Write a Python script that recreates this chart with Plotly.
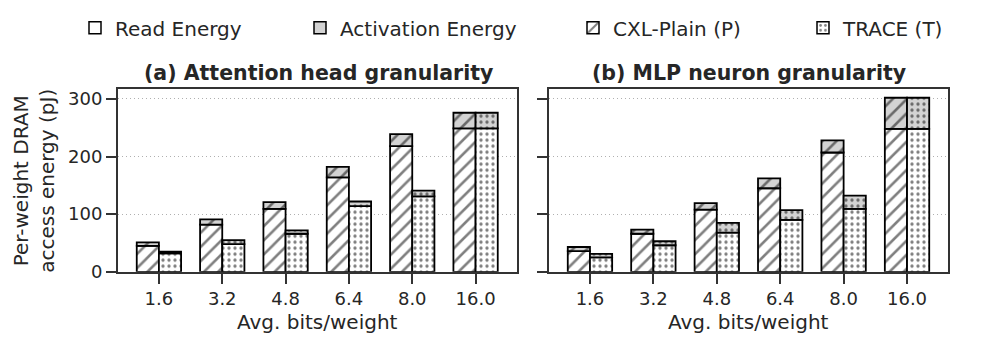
import plotly.graph_objects as go
from plotly.subplots import make_subplots

bits = ['1.6', '3.2', '4.8', '6.4', '8.0', '16.0']

# (a) attention head granularity, pJ per weight
head_plain_read = [45, 82, 109, 164, 218, 249]
head_plain_act = [6, 9, 12, 18, 21, 27]
head_trace_read = [32, 48, 66, 114, 131, 249]
head_trace_act = [3, 7, 6, 8, 10, 27]

# (b) MLP neuron granularity
mlp_plain_read = [36, 66, 108, 145, 207, 248]
mlp_plain_act = [7, 7, 11, 17, 21, 54]
mlp_trace_read = [25, 46, 68, 90, 109, 248]
mlp_trace_act = [6, 7, 17, 17, 23, 54]

y_ticks = [0, 100, 200, 300]

FONT = 'DejaVu Sans'
TXT = '#262626'
READ_COL = 'white'
ACT_COL = '#d3d3d3'
W = 0.35

# page body adds 8px all round, so shrink the figure to fit the window
FW, FH = 981, 342


def px(x):
    return (x - 8) / FW


def py(y):
    return 1 - (y - 8) / FH


hatch = {
    'P': dict(shape='/', size=10, solidity=0.26, fgcolor='black'),
    'T': dict(shape='.', size=6, solidity=0.24, fgcolor='black'),
}

fig = make_subplots(rows=1, cols=2)


def add_pair(col, read, act, key):
    off = -W if key == 'P' else 0
    fig.add_trace(go.Bar(x=bits, y=read, width=W, offset=off,
                         marker=dict(color=READ_COL, line=dict(color='black', width=1.8),
                                     pattern=dict(hatch[key], bgcolor=READ_COL)),
                         showlegend=False), row=1, col=col)
    fig.add_trace(go.Bar(x=bits, y=act, base=read, width=W, offset=off,
                         marker=dict(color=ACT_COL, line=dict(color='black', width=1.8),
                                     pattern=dict(hatch[key], bgcolor=ACT_COL)),
                         showlegend=False), row=1, col=col)


add_pair(1, head_plain_read, head_plain_act, 'P')
add_pair(1, head_trace_read, head_trace_act, 'T')
add_pair(2, mlp_plain_read, mlp_plain_act, 'P')
add_pair(2, mlp_trace_read, mlp_trace_act, 'T')

# legend-only entries
legend_items = [
    ('Read Energy', READ_COL, None, 'legend'),
    ('Activation Energy', ACT_COL, None, 'legend2'),
    ('CXL-Plain (P)', READ_COL, hatch['P'], 'legend3'),
    ('TRACE (T)', READ_COL, hatch['T'], 'legend4'),
]
for name, c, pat, lg in legend_items:
    mk = dict(color=c, line=dict(color='black', width=1.5))
    if pat:
        mk['pattern'] = dict(pat, bgcolor=c)
    fig.add_trace(go.Bar(x=[None], y=[None], name=name, marker=mk,
                         showlegend=True, legend=lg), row=1, col=1)

axis_style = dict(showline=True, linecolor='#333333', linewidth=2, mirror=True,
                  ticks='outside', ticklen=10, tickwidth=1.5, tickcolor='#333333',
                  tickfont=dict(family=FONT, size=18, color=TXT))

fig.update_xaxes(type='category', range=[-0.646, 5.646], showgrid=False, **axis_style)
fig.update_yaxes(range=[0, 317], tickvals=y_ticks, showgrid=True, gridcolor='#b0b0b0',
                 griddash='1px,3px', gridwidth=1, zeroline=False, **axis_style)
fig.update_yaxes(showticklabels=False, row=1, col=2)

fig.update_layout(
    xaxis=dict(domain=[px(118), px(516.5)]),
    xaxis2=dict(domain=[px(549), px(948)]),
    yaxis=dict(domain=[py(279.3), py(90)]),
    yaxis2=dict(domain=[py(279.3), py(90)]),
)

lx = [75, 300, 573, 803]
leg_base = dict(orientation='h', yanchor='middle', y=py(26.5), xanchor='left',
                font=dict(family=FONT, size=20, color=TXT), bgcolor='rgba(0,0,0,0)')
fig.update_layout(
    legend=dict(leg_base, x=px(lx[0])),
    legend2=dict(leg_base, x=px(lx[1])),
    legend3=dict(leg_base, x=px(lx[2])),
    legend4=dict(leg_base, x=px(lx[3])),
)

title_font = dict(family=FONT, size=20.5, color=TXT, weight='bold')
label_font = dict(family=FONT, size=20, color=TXT)
annos = [
    dict(text='(a) Attention head granularity', x=px(318), y=py(73), font=title_font),
    dict(text='(b) MLP neuron granularity', x=px(748.5), y=py(73), font=title_font),
    dict(text='Avg. bits/weight', x=px(317), y=py(331.7), font=label_font),
    dict(text='Avg. bits/weight', x=px(748.5), y=py(331.7), font=label_font),
    dict(text='Per-weight DRAM<br>access energy (pJ)', x=px(34), y=py(185),
         textangle=-90, font=label_font),
]
for a in annos:
    fig.add_annotation(xref='paper', yref='paper', showarrow=False,
                       xanchor='center', yanchor='middle', **a)

fig.update_layout(
    barmode='overlay',
    width=FW, height=FH,
    margin=dict(l=0, r=0, t=0, b=0),
    plot_bgcolor='white', paper_bgcolor='white',
    font=dict(family=FONT, color=TXT),
)

fig.write_html('out.html')
